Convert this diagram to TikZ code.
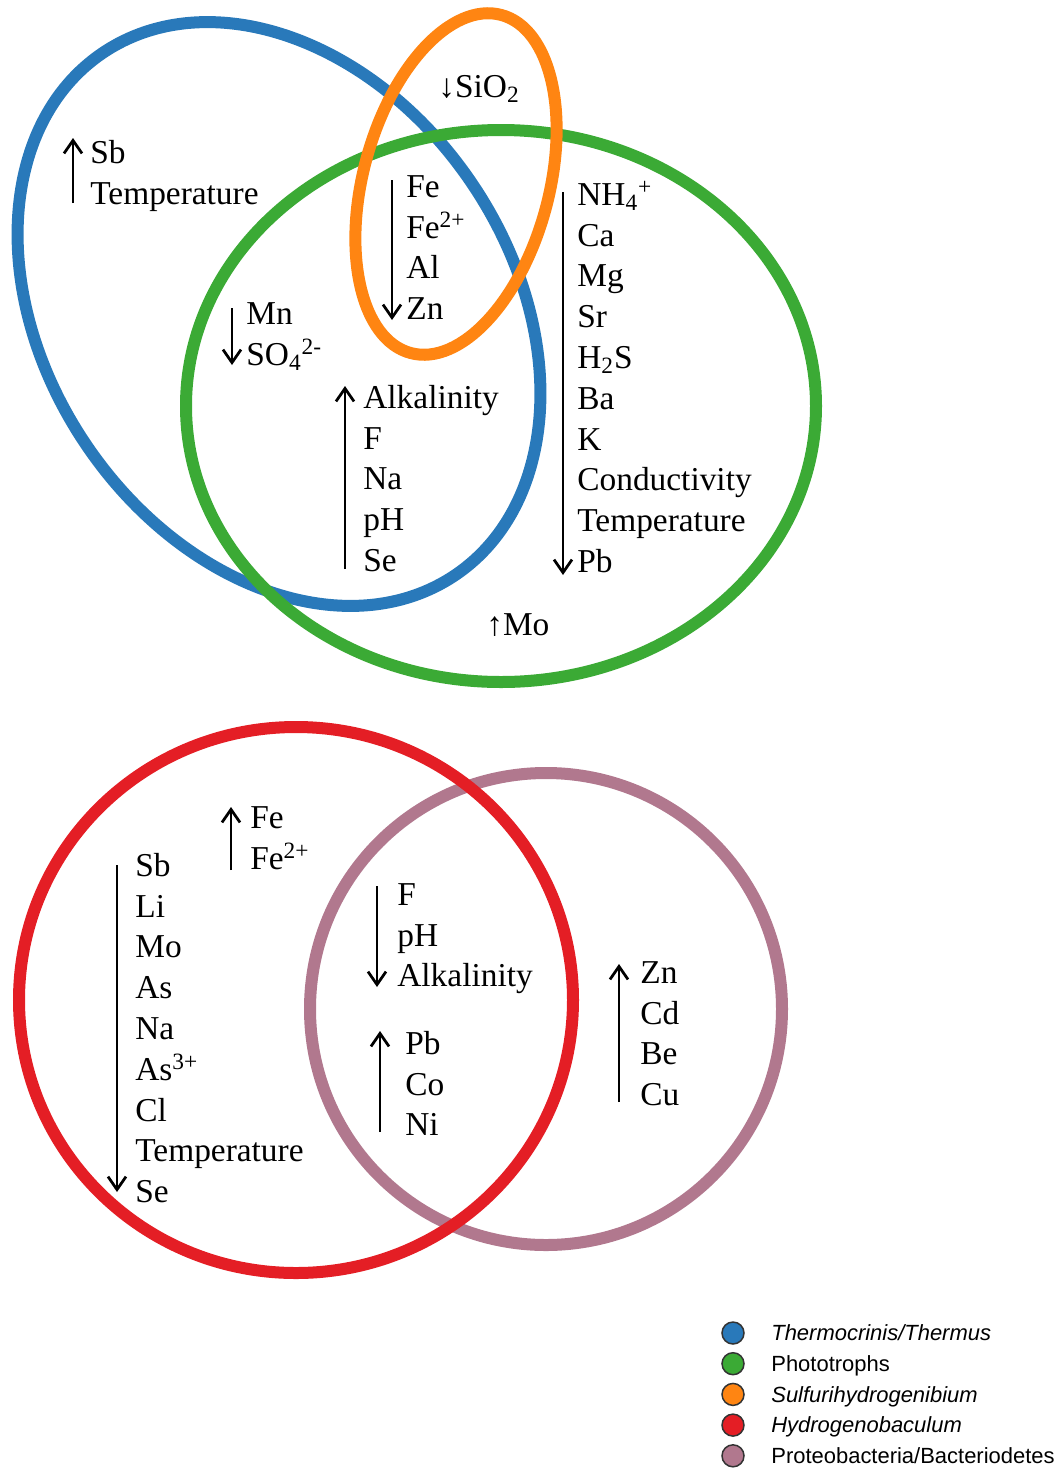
\documentclass[tikz,border=0pt]{standalone}
\usepackage{fontspec}
\setmainfont{Liberation Serif}
\setsansfont{Liberation Sans}
\usetikzlibrary{arrows.meta,positioning,calc}
\definecolor{RingBlue}{HTML}{2979BA}
\definecolor{RingGreen}{HTML}{3BAA35}
\definecolor{RingOrange}{HTML}{FF8512}
\definecolor{RingRed}{HTML}{E41E25}
\definecolor{RingMauve}{HTML}{B1788E}
\newcommand{\lead}{\rule{0pt}{0.9em}}

\begin{document}
\begin{tikzpicture}[x=0.2mm,y=-0.2mm,node distance=1.74mm]
    \tikzset{ring/.style={line width=2.4mm},
      list/.style={anchor=north west,inner sep=0pt,align=left,font=\fontsize{19}{23.2}\selectfont},
      trend/.style={line width=0.55mm,-{Straight Barb[length=2.6mm,width=3.6mm]}},
      key/.style={circle,draw=black!80,line width=0.3mm,minimum size=4.4mm,inner sep=0pt,outer sep=0pt},
      keytext/.style={inner sep=0pt,text height=3.14mm,text depth=0pt,font=\sffamily\fontsize{12.5}{15}\selectfont}}
    \useasboundingbox (0,0) rectangle (1063,1468);

    \draw[ring,RingBlue,rotate around={-56:(279,314)}] (279,314) ellipse [x radius=315,y radius=233];
    \draw[ring,RingGreen] (501,406) ellipse [x radius=315,y radius=276];
    \draw[ring,RingOrange,rotate around={-15:(456,184)}] (456,184) ellipse [x radius=93,y radius=175];
    \draw[ring,RingMauve] (546,1009) circle [radius=236];
    \draw[ring,RingRed] (296,1000) ellipse [x radius=277,y radius=273];

    \node[list] (sbTemp) at (90,133) {\lead Sb\\Temperature};
    \draw[trend] ($(sbTemp.north west)+(-17,70)$) -- ($(sbTemp.north west)+(-17,5)$);
    \node[list,anchor=base west] (silica) at (438,97) {↓SiO\textsubscript{2}};
    \node[list] (feZn) at (406,167) {\lead Fe\\Fe\textsuperscript{2+}\\Al\\Zn};
    \draw[trend] ($(feZn.north west)+(-14,13)$) -- ($(feZn.north west)+(-14,153)$);
    \node[list] (mnSO) at (246,294) {\lead Mn\\SO\textsubscript{4}\textsuperscript{2-}};
    \draw[trend] ($(mnSO.north west)+(-14,14)$) -- ($(mnSO.north west)+(-14,71)$);
    \node[list] (alkSe) at (363,378) {\lead Alkalinity\\F\\Na\\pH\\Se};
    \draw[trend] ($(alkSe.north west)+(-18,191)$) -- ($(alkSe.north west)+(-18,8)$);
    \node[list] (nhPb) at (577,175) {\lead NH\textsubscript{4}\textsuperscript{+}\\Ca\\Mg\\Sr\\H\textsubscript{2}S\\Ba\\K\\Conductivity\\Temperature\\Pb};
    \draw[trend] ($(nhPb.north west)+(-14,17)$) -- ($(nhPb.north west)+(-14,400)$);
    \node[list,anchor=base west] (molyb) at (486,635) {↑Mo};

    \node[list] (feUp) at (250,798) {\lead Fe\\Fe\textsuperscript{2+}};
    \draw[trend] ($(feUp.north west)+(-19,72)$) -- ($(feUp.north west)+(-19,9)$);
    \node[list] (sbSe) at (135,846) {\lead Sb\\Li\\Mo\\As\\Na\\As\textsuperscript{3+}\\Cl\\Temperature\\Se};
    \draw[trend] ($(sbSe.north west)+(-18,19)$) -- ($(sbSe.north west)+(-18,346)$);
    \node[list] (fAlk) at (397,875) {\lead F\\pH\\Alkalinity};
    \draw[trend] ($(fAlk.north west)+(-20,11)$) -- ($(fAlk.north west)+(-20,112)$);
    \node[list] (pbNi) at (405,1024) {\lead Pb\\Co\\Ni};
    \draw[trend] ($(pbNi.north west)+(-25,108)$) -- ($(pbNi.north west)+(-25,7)$);
    \node[list] (znCu) at (640,953) {\lead Zn\\Cd\\Be\\Cu};
    \draw[trend] ($(znCu.north west)+(-21,149)$) -- ($(znCu.north west)+(-21,11)$);

    \node[key,fill=RingBlue] (keyA) at (733,1333) {};
    \node[key,fill=RingGreen,below=of keyA] (keyB) {};
    \node[key,fill=RingOrange,below=of keyB] (keyC) {};
    \node[key,fill=RingRed,below=of keyC] (keyD) {};
    \node[key,fill=RingMauve,below=of keyD] (keyE) {};
    \node[keytext,right=5.4mm of keyA] (labA) {\textit{Thermocrinis/Thermus}};
    \node[keytext,right=5.4mm of keyB] (labB) {Phototrophs};
    \node[keytext,right=5.4mm of keyC] (labC) {\textit{Sulfurihydrogenibium}};
    \node[keytext,right=5.4mm of keyD] (labD) {\textit{Hydrogenobaculum}};
    \node[keytext,right=5.4mm of keyE] (labE) {Proteobacteria/Bacteriodetes};
  \end{tikzpicture}
\end{document}
